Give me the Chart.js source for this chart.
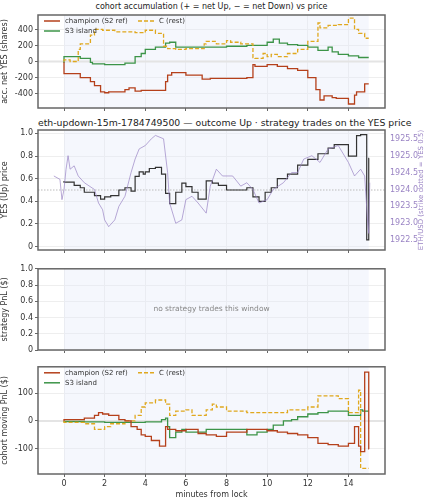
<!DOCTYPE html>
<html>
<head>
<meta charset="utf-8">
<script src="https://cdn.jsdelivr.net/npm/chart.js@4.4.1/dist/chart.umd.min.js"></script>
<style>
  body { margin: 0; background: #fff; width: 427px; height: 500px; position: relative; overflow: hidden; font-family: "DejaVu Sans", sans-serif; }
  canvas { position: absolute; left: 0; }
  .ttl { position: absolute; left: 38px; width: 347px; text-align: center; color: #222; white-space: nowrap; }
</style>
</head>
<body>
<div class="ttl" style="top:2px;font-size:8px">cohort accumulation (+ = net Up, − = net Down) vs price</div>
<div class="ttl" style="top:117px;font-size:9.3px">eth-updown-15m-1784749500 — outcome Up · strategy trades on the YES price</div>
<canvas id="c1" width="427" height="120" style="top:0"></canvas>
<canvas id="c2" width="427" height="142" style="top:118px"></canvas>
<canvas id="c3" width="427" height="98" style="top:262px"></canvas>
<canvas id="c4" width="427" height="140" style="top:360px"></canvas>
<script>
// minutes from lock
var xTicks = [0, 2, 4, 6, 8, 10, 12, 14];
var cohortLabels = ['champion (S2 ref)', 'C (rest)', 'S3 island'];
var ethTicks = [1922.5, 1923, 1923.5, 1924, 1924.5, 1925, 1925.5];

// accumulated net YES shares
var accChampion = [[0,-10],[0.8,-150],[1.3,-200],[1.5,-250],[1.8,-300],[2.0,-380],[2.2,-390],[3.0,-380],[3.2,-350],[3.5,-330],[3.8,-370],[5.0,-360],[5.1,-250],[5.3,-170],[5.6,-140],[6.0,-140],[6.8,-170],[7.2,-220],[8.0,-210],[9.0,-210],[9.3,-200],[9.4,-40],[10.0,-60],[10.5,-40],[11.0,-60],[11.5,-90],[12.0,-110],[12.4,-200],[12.6,-350],[12.8,-480],[13.2,-430],[13.4,-450],[14.0,-460],[14.3,-530],[14.4,-420],[14.8,-380],[15.0,-280]];
var accC = [[0,0],[0.3,20],[0.7,0],[0.8,150],[1.3,220],[1.5,330],[1.9,400],[2.5,390],[3.5,370],[4.0,360],[4.5,390],[4.9,350],[5.1,190],[5.5,160],[6.0,150],[6.9,160],[7.0,220],[7.5,250],[8.0,220],[8.2,260],[8.7,240],[9.3,220],[9.4,50],[9.8,40],[10.0,100],[10.2,60],[10.5,90],[11.0,60],[11.5,100],[12.0,150],[12.5,250],[12.6,480],[13.0,420],[13.5,450],[14.0,460],[14.3,540],[14.5,400],[14.8,350],[15.0,290]];
var accS3 = [[0,-20],[0.8,60],[1.3,40],[1.4,-10],[2.0,-30],[3.0,-40],[3.5,-20],[3.8,60],[4.0,100],[4.5,150],[5.0,180],[5.2,230],[5.5,240],[7.0,180],[8.0,180],[9.0,190],[10.0,200],[10.3,240],[10.6,280],[11.0,230],[11.5,210],[12.0,200],[12.5,180],[13.0,140],[13.2,180],[13.5,120],[14.0,90],[14.5,70],[15.0,50]];

// YES (Up) price and ETH/USD
var yesPrice = [[0,0.58],[0.5,0.57],[0.8,0.54],[1.0,0.52],[1.5,0.48],[1.8,0.45],[2.0,0.42],[2.3,0.44],[2.7,0.45],[3.0,0.50],[3.3,0.52],[3.5,0.49],[3.7,0.62],[3.9,0.66],[4.0,0.64],[4.2,0.66],[4.5,0.69],[4.8,0.70],[5.0,0.64],[5.2,0.47],[5.5,0.38],[5.8,0.48],[6.0,0.56],[6.3,0.53],[6.6,0.48],[7.0,0.42],[7.3,0.58],[7.6,0.56],[8.0,0.54],[8.3,0.50],[9.0,0.50],[9.3,0.52],[9.6,0.44],[9.9,0.40],[10.2,0.48],[10.5,0.52],[11.0,0.60],[11.5,0.64],[12.0,0.72],[12.5,0.77],[13.0,0.82],[13.3,0.87],[13.6,0.90],[14.0,0.90],[14.4,0.80],[14.6,0.98],[14.9,0.99],[15.0,0.06],[15.02,0.78]];
var ethUsd = [[-0.5,1924.4],[-0.2,1924.3],[-0.1,1923.7],[0,1924.0],[0.1,1924.6],[0.2,1925.0],[0.3,1924.6],[0.5,1924.7],[0.7,1924.4],[1.0,1924.2],[1.5,1924.0],[1.7,1923.6],[1.9,1923.4],[2.0,1923.1],[2.2,1922.9],[2.5,1923.1],[2.7,1923.5],[3.0,1923.8],[3.3,1924.5],[3.5,1924.9],[3.7,1925.2],[4.0,1925.3],[4.3,1925.5],[4.5,1925.6],[4.9,1925.5],[5.1,1924.5],[5.2,1923.6],[5.5,1923.0],[5.8,1923.1],[6.0,1923.7],[6.3,1923.8],[6.6,1923.6],[7.0,1923.3],[7.2,1924.1],[7.5,1924.6],[7.8,1924.4],[8.3,1924.4],[8.7,1924.1],[9.0,1924.2],[9.3,1924.0],[9.6,1923.6],[10.0,1923.7],[10.3,1924.0],[10.8,1924.2],[11.2,1924.5],[11.5,1924.5],[11.8,1924.9],[12.2,1925.0],[12.6,1924.8],[13.0,1925.2],[13.5,1925.3],[14.0,1924.8],[14.3,1924.4],[14.6,1924.6],[14.8,1924.4],[14.95,1923.0],[15.0,1922.7],[15.05,1924.2]];
var strikeYes = 0.5;

// cohort moving PnL ($)
var pnlChampion = [[0,0],[1.0,5],[1.5,10],[1.7,20],[1.9,30],[2.2,25],[2.7,20],[3.0,5],[3.3,0],[3.6,-20],[3.8,-30],[4.0,-50],[4.3,-55],[4.7,-70],[5.0,-90],[5.1,-20],[5.5,-30],[6.0,-35],[6.6,-30],[7.0,-45],[7.5,-50],[8.0,-55],[9.0,-40],[10.0,-30],[10.5,-35],[11.0,-40],[11.5,-45],[12.0,-50],[12.5,-60],[13.0,-80],[13.5,-85],[14.0,-90],[14.3,-80],[14.5,-20],[14.6,-90],[14.8,-110],[15.0,175],[15.02,-100]];
var pnlC = [[0,0],[1.0,-5],[1.5,-10],[2.0,-30],[2.3,-20],[3.0,-10],[3.5,0],[3.8,20],[4.0,50],[4.5,65],[5.0,75],[5.2,60],[5.5,20],[6.0,35],[6.3,40],[7.0,20],[7.3,40],[7.5,60],[8.0,50],[9.0,35],[10.0,30],[11.0,30],[12.0,40],[12.5,50],[13.0,90],[13.5,90],[14.0,80],[14.5,30],[14.6,110],[15.0,-170]];
var pnlS3 = [[0,0],[1.0,-2],[2.0,-3],[3.0,-5],[4.0,-5],[4.8,-3],[5.0,5],[5.1,10],[5.2,-20],[5.5,-60],[5.8,-40],[6.0,-30],[7.0,-40],[8.0,-30],[9.0,-30],[9.5,-50],[10.0,-40],[10.3,-30],[10.8,-15],[11.2,0],[11.5,5],[12.0,15],[12.5,25],[13.0,30],[14.0,35],[14.6,20],[14.7,40],[15.0,35]];

var RED = '#b5401b', GOLD = '#e0a81e', GREEN = '#3c9448', INK = '#333', PURPLE = '#9a84c4';
Chart.defaults.font.family = '"DejaVu Sans", sans-serif';
Chart.defaults.font.size = 7.5;
Chart.defaults.color = '#333';
Chart.defaults.animation = false;

function pts(a) { return a.map(function (p) { return {x: p[0], y: p[1]}; }); }

var framePlugin = {
  id: 'frame',
  beforeDatasetsDraw: function (chart, args, opts) {
    var ctx = chart.ctx, a = chart.chartArea, x = chart.scales.x;
    ctx.save();
    ctx.fillStyle = 'rgba(225,232,248,0.35)';
    var x0 = x.getPixelForValue(0), x1 = x.getPixelForValue(15);
    ctx.fillRect(x0, a.top, x1 - x0, a.bottom - a.top);
    if (opts.hline !== undefined) {
      var y = chart.scales.y.getPixelForValue(opts.hline);
      ctx.strokeStyle = opts.dotted ? '#bbb' : '#e4e4e4';
      ctx.lineWidth = opts.dotted ? 1 : 2;
      ctx.setLineDash(opts.dotted ? [1.5, 1.5] : []);
      ctx.beginPath(); ctx.moveTo(a.left, y); ctx.lineTo(a.right, y); ctx.stroke();
    }
    ctx.restore();
  },
  afterDraw: function (chart, args, opts) {
    var ctx = chart.ctx, a = chart.chartArea;
    ctx.save();
    ctx.strokeStyle = '#666';
    ctx.lineWidth = 1.5;
    ctx.strokeRect(a.left, a.top, a.right - a.left, a.bottom - a.top);
    if (opts.note) {
      ctx.fillStyle = '#888';
      ctx.font = '7.5px "DejaVu Sans"';
      ctx.textAlign = 'center'; ctx.textBaseline = 'middle';
      ctx.fillText(opts.note, (a.left + a.right) / 2, (a.top + a.bottom) / 2);
    }
    if (opts.rightTitle) {
      // right axis title reads bottom-to-top like the left one
      ctx.translate(421, (a.top + a.bottom) / 2);
      ctx.rotate(-Math.PI / 2);
      ctx.fillStyle = PURPLE;
      ctx.font = '7px "DejaVu Sans"';
      ctx.textAlign = 'center'; ctx.textBaseline = 'middle';
      ctx.fillText(opts.rightTitle, 0, 0);
      ctx.setTransform(1, 0, 0, 1, 0, 0);
    }
    if (opts.legend) {
      var spots = [[6, 6], [100, 6], [6, 16]];
      ctx.font = '7px "DejaVu Sans"';
      ctx.textBaseline = 'middle'; ctx.textAlign = 'left';
      chart.data.datasets.forEach(function (d, i) {
        var lx = a.left + spots[i][0], ly = a.top + spots[i][1];
        ctx.strokeStyle = d.borderColor; ctx.lineWidth = 1.5;
        ctx.setLineDash(d.borderDash || []);
        ctx.beginPath(); ctx.moveTo(lx, ly); ctx.lineTo(lx + 16, ly); ctx.stroke();
        ctx.setLineDash([]);
        ctx.fillStyle = '#333';
        ctx.fillText(d.label, lx + 21, ly);
      });
    }
    ctx.restore();
  }
};

function xScale(height, labels, title) {
  return {
    type: 'linear', min: -1.28, max: 15.8,
    afterBuildTicks: function (s) { s.ticks = xTicks.map(function (v) { return {value: v}; }); },
    afterFit: function (s) { s.height = height; },
    grid: {color: '#eeeeee', tickLength: 3, tickColor: '#666'},
    border: {display: false},
    ticks: {display: labels, padding: 2, font: {size: 8}},
    title: {display: !!title, text: title, padding: 0, font: {size: 8}}
  };
}
function yScale(min, max, step, title, width) {
  return {
    min: min, max: max,
    afterBuildTicks: function (s) {
      var t = [];
      for (var v = Math.ceil(min / step) * step; v <= max + 1e-9; v += step) t.push({value: Math.round(v * 1000) / 1000});
      s.ticks = t;
    },
    afterFit: function (s) { s.width = width || 38; },
    grid: {color: '#eeeeee', tickLength: 3, tickColor: '#666'},
    border: {display: false},
    ticks: {padding: 2, font: {size: 8}},
    title: {display: true, text: title, padding: 0, font: {size: 8}}
  };
}
function line(label, data, color, dash) {
  return {label: label, data: pts(data), borderColor: color, borderWidth: 1.3, borderDash: dash || [],
    pointRadius: 0, stepped: 'after', fill: false};
}
function baseOptions(pad, scales, frame) {
  return {
    responsive: false, layout: {padding: {top: pad, right: 42, left: 0, bottom: 0}},
    plugins: {legend: {display: false}, title: {display: false}, tooltip: {enabled: false}, frame: frame},
    scales: scales
  };
}

new Chart(document.getElementById('c1'), {
  type: 'line',
  data: {datasets: [line(cohortLabels[0], accChampion, RED), line(cohortLabels[1], accC, GOLD, [4, 2]), line(cohortLabels[2], accS3, GREEN)]},
  options: baseOptions(15, {x: xScale(12, false), y: yScale(-580, 580, 200, 'acc. net YES (shares)')}, {hline: 0, legend: true}),
  plugins: [framePlugin]
});

var o2 = baseOptions(12, {
  x: xScale(10, false),
  y: yScale(-0.03, 1.03, 0.2, 'YES (Up) price'),
  y2: {position: 'right', min: 1922.21, max: 1925.76,
    afterBuildTicks: function (s) { s.ticks = ethTicks.map(function (v) { return {value: v}; }); },
    afterFit: function (s) { s.width = 42; },
    grid: {display: false, tickLength: 3, tickColor: '#666'}, border: {display: false},
    ticks: {color: PURPLE, padding: 2, font: {size: 8}, callback: function (v) { return v.toFixed(1); }},
    title: {display: false}}
}, {hline: strikeYes, dotted: true, rightTitle: 'ETH/USD (strike dotted = YES 0.5)'});
o2.layout.padding.right = 0;
new Chart(document.getElementById('c2'), {
  type: 'line',
  data: {datasets: [
    {label: 'ETH/USD', data: pts(ethUsd), yAxisID: 'y2', borderColor: 'rgba(154,132,196,0.7)', borderWidth: 1, pointRadius: 0, tension: 0},
    {label: 'YES', data: pts(yesPrice), yAxisID: 'y', borderColor: INK, borderWidth: 1.2, pointRadius: 0, stepped: 'after'}
  ]},
  options: o2,
  plugins: [framePlugin]
});

new Chart(document.getElementById('c3'), {
  type: 'line',
  data: {datasets: [{label: 'none', data: []}]},
  options: baseOptions(6, {x: xScale(10, false), y: yScale(0, 1, 0.2, 'strategy PnL ($)')}, {note: 'no strategy trades this window'}),
  plugins: [framePlugin]
});

new Chart(document.getElementById('c4'), {
  type: 'line',
  data: {datasets: [line(cohortLabels[0], pnlChampion, RED), line(cohortLabels[1], pnlC, GOLD, [4, 2]), line(cohortLabels[2], pnlS3, GREEN)]},
  options: baseOptions(5, {x: xScale(26, true, 'minutes from lock'), y: yScale(-190, 194, 100, 'cohort moving PnL ($)')}, {hline: 0, legend: true}),
  plugins: [framePlugin]
});
</script>
</body>
</html>
